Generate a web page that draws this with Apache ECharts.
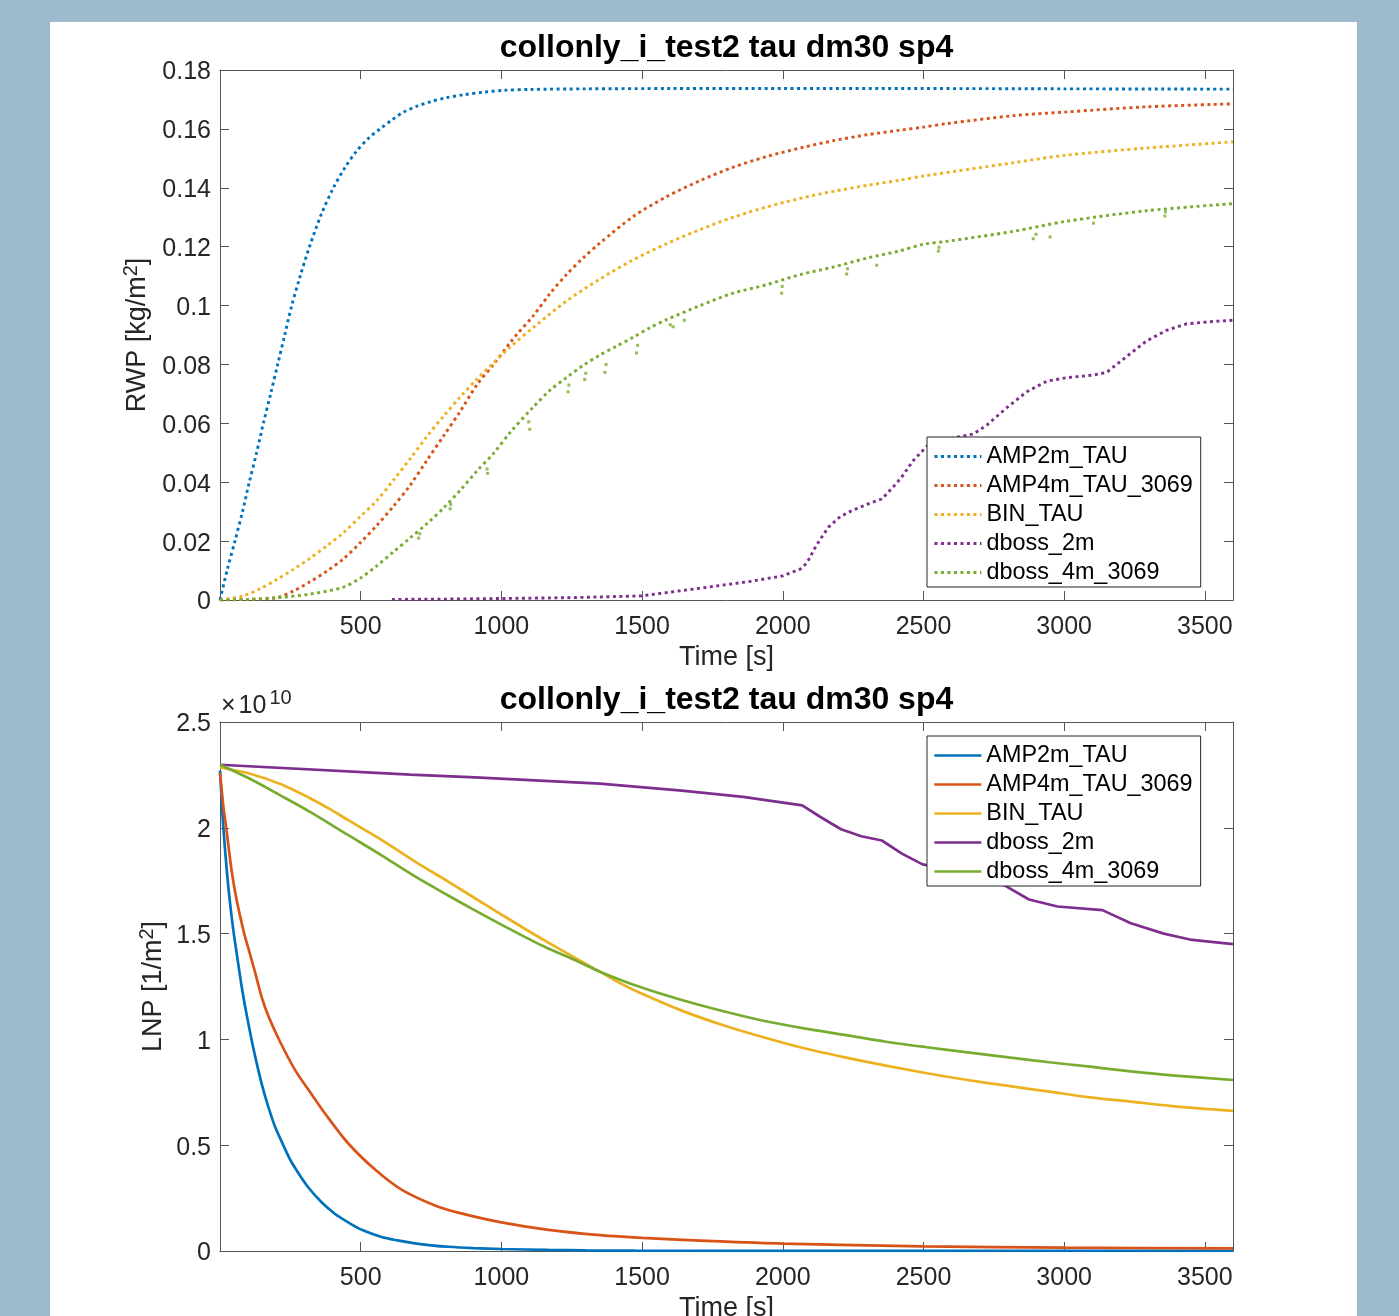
<!DOCTYPE html>
<html>
<head>
<meta charset="utf-8">
<title>collonly_i_test2 tau dm30 sp4</title>
<script src="https://cdn.jsdelivr.net/npm/echarts@6/dist/echarts.min.js"></script>
<style>
  html, body { margin: 0; padding: 0; background: #9dbbcc; overflow: hidden; }
  #sheet { position: absolute; left: 50px; top: 22px; width: 1307px; height: 1294px; background: #ffffff; }
  #chart { position: absolute; left: 0; top: 0; width: 1399px; height: 1316px; }
</style>
</head>
<body>
<div id="sheet"></div>
<div id="chart"></div>
<script>
// ---------- Rain water path, RWP [kg/m^2] (upper panel) ----------
const rwpAmp2mT = [0, 25, 53, 80, 104, 130, 154, 180, 205, 230, 255, 285, 318, 360, 403, 445, 486, 530, 569, 610, 652, 700, 747, 800, 866, 940, 1008, 1103, 1300, 1600, 2000, 2500, 3000, 3600];
const rwpAmp2mV = [0, 0.010, 0.020, 0.030, 0.040, 0.050, 0.060, 0.070, 0.080, 0.090, 0.100, 0.110, 0.120, 0.131, 0.140, 0.147, 0.1525, 0.157, 0.160, 0.163, 0.1657, 0.1677, 0.1692, 0.1705, 0.1716, 0.1725, 0.1731, 0.1734, 0.1736, 0.1737, 0.1737, 0.1737, 0.1736, 0.1735];

const rwpAmp4mT = [0, 100, 202, 260, 320, 380, 439, 498, 557, 617, 676, 735, 795, 854, 913, 972, 1032, 1053, 1113, 1172, 1231, 1291, 1350, 1468, 1587, 1706, 1824, 1943, 2062, 2180, 2299, 2412, 2500, 2583, 2820, 3000, 3293, 3600];
const rwpAmp4mV = [0, 0.0002, 0.0008, 0.003, 0.0062, 0.0098, 0.014, 0.0194, 0.0253, 0.0319, 0.039, 0.0474, 0.0558, 0.0641, 0.0731, 0.080, 0.0875, 0.090, 0.0965, 0.104, 0.1105, 0.1162, 0.1212, 0.1302, 0.137, 0.1424, 0.147, 0.1506, 0.1535, 0.156, 0.158, 0.1595, 0.1606, 0.1618, 0.1645, 0.1657, 0.1675, 0.1685];

const rwpBinT = [0, 83, 142, 202, 261, 320, 380, 439, 498, 557, 617, 676, 735, 795, 854, 913, 972, 1032, 1113, 1231, 1350, 1468, 1587, 1706, 1824, 1943, 2062, 2180, 2299, 2412, 2500, 2820, 3000, 3293, 3600];
const rwpBinV = [0, 0.0014, 0.0038, 0.007, 0.0104, 0.0142, 0.0184, 0.0229, 0.0283, 0.0337, 0.0408, 0.048, 0.0555, 0.0625, 0.069, 0.075, 0.0805, 0.086, 0.0925, 0.1015, 0.109, 0.1155, 0.121, 0.1258, 0.13, 0.1335, 0.1364, 0.1388, 0.1408, 0.1425, 0.144, 0.1485, 0.151, 0.1535, 0.1556];

const rwpDboss2mT = [611, 800, 994, 1250, 1498, 1706, 1883, 2000, 2062, 2085, 2121, 2162, 2204, 2240, 2299, 2352, 2393, 2420, 2464, 2512, 2583, 2678, 2725, 2796, 2867, 2938, 3009, 3104, 3151, 3222, 3293, 3364, 3435, 3530, 3600];
const rwpDboss2mV = [0.0002, 0.0003, 0.0005, 0.0008, 0.0014, 0.004, 0.0063, 0.0082, 0.0105, 0.0125, 0.0188, 0.0247, 0.0283, 0.0301, 0.0325, 0.0343, 0.0385, 0.0414, 0.0474, 0.0522, 0.0546, 0.0564, 0.0594, 0.0653, 0.0707, 0.0743, 0.0755, 0.0764, 0.0773, 0.0827, 0.088, 0.0916, 0.0938, 0.0946, 0.095];

// dboss_4m_3069: main trend, and the scattered low samples that sit below it
const rwpDboss4mT = [0, 100, 202, 320, 439, 498, 557, 617, 676, 735, 795, 854, 913, 972, 1032, 1113, 1172, 1231, 1291, 1350, 1409, 1468, 1528, 1587, 1706, 1824, 1943, 2062, 2180, 2299, 2412, 2500, 2583, 2820, 3000, 3293, 3600];
const rwpDboss4mV = [0, 0.0002, 0.0008, 0.002, 0.0044, 0.0074, 0.0116, 0.0164, 0.0211, 0.0259, 0.0313, 0.0373, 0.0438, 0.0498, 0.057, 0.0655, 0.0712, 0.0755, 0.0797, 0.0832, 0.0862, 0.0892, 0.0925, 0.0952, 0.1, 0.1042, 0.1071, 0.1105, 0.1131, 0.1161, 0.1185, 0.1208, 0.1218, 0.1252, 0.1285, 0.1322, 0.1346];
const rwpDboss4mLowT = [706, 710, 818, 820, 949, 951, 1097, 1101, 1237, 1240, 1296, 1300, 1368, 1372, 1480, 1484, 1600, 1610, 1650, 1996, 1998, 2227, 2230, 2334, 2553, 2555, 2890, 2900, 2950, 3104, 3358, 3360];
const rwpDboss4mLowV = [0.021, 0.0225, 0.031, 0.0325, 0.0445, 0.043, 0.0605, 0.058, 0.0707, 0.073, 0.0749, 0.077, 0.0773, 0.080, 0.0839, 0.0865, 0.0935, 0.0928, 0.095, 0.1042, 0.1065, 0.1107, 0.1125, 0.1137, 0.1185, 0.1198, 0.1227, 0.1242, 0.1233, 0.128, 0.1304, 0.1318];

// ---------- Rain drop number, LNP [1/m^2], in units of 1e10 (lower panel) ----------
const lnpAmp2mT = [0, 6, 12, 24, 36, 47, 60, 77, 90, 112, 130, 150, 172, 195, 225, 250, 280, 314, 361, 409, 456, 504, 574, 630, 693, 750, 811, 900, 1000, 1167, 1300, 1475, 1800, 2200, 2700, 3200, 3600];
const lnpAmp2mV = [2.27, 2.13, 2.0, 1.80, 1.64, 1.52, 1.40, 1.25, 1.15, 1.0, 0.89, 0.78, 0.68, 0.59, 0.5, 0.43, 0.365, 0.30, 0.23, 0.175, 0.135, 0.1, 0.066, 0.05, 0.036, 0.027, 0.02, 0.014, 0.0095, 0.005, 0.003, 0.0016, 0.0008, 0.0005, 0.0003, 0.0002, 0.0002];

const lnpAmp4mT = [0, 6, 12, 24, 41, 59, 86, 101, 124, 148, 172, 213, 267, 326, 373, 456, 551, 645, 764, 850, 1000, 1167, 1350, 1500, 1750, 2000, 2500, 3000, 3600];
const lnpAmp4mV = [2.26, 2.18, 2.10, 1.98, 1.80, 1.66, 1.5, 1.43, 1.32, 1.2, 1.11, 0.99, 0.855, 0.74, 0.65, 0.508, 0.385, 0.29, 0.215, 0.18, 0.135, 0.10, 0.075, 0.062, 0.047, 0.035, 0.022, 0.016, 0.012];

const lnpBinT = [0, 101, 219, 320, 391, 456, 574, 693, 811, 906, 1000, 1150, 1269, 1350, 1423, 1496, 1641, 1786, 1931, 2076, 2221, 2367, 2512, 2657, 2802, 2947, 3092, 3237, 3383, 3600];
const lnpBinV = [2.285, 2.258, 2.205, 2.14, 2.088, 2.036, 1.943, 1.84, 1.746, 1.667, 1.59, 1.47, 1.38, 1.32, 1.265, 1.218, 1.136, 1.068, 1.01, 0.958, 0.915, 0.876, 0.84, 0.808, 0.78, 0.753, 0.726, 0.706, 0.685, 0.662];

const lnpDboss2mT = [0, 676, 906, 1350, 1641, 1859, 2069, 2134, 2207, 2279, 2352, 2425, 2497, 2600, 2700, 2788, 2875, 2976, 3136, 3237, 3354, 3455, 3600];
const lnpDboss2mV = [2.298, 2.251, 2.238, 2.209, 2.176, 2.146, 2.106, 2.051, 1.993, 1.96, 1.94, 1.877, 1.827, 1.80, 1.775, 1.728, 1.661, 1.628, 1.611, 1.549, 1.50, 1.47, 1.45];

const lnpDboss4mT = [0, 101, 219, 320, 456, 574, 693, 811, 906, 1032, 1150, 1269, 1350, 1496, 1641, 1786, 1931, 2076, 2221, 2367, 2512, 2657, 2802, 2947, 3092, 3237, 3383, 3600];
const lnpDboss4mV = [2.298, 2.235, 2.15, 2.075, 1.965, 1.87, 1.77, 1.68, 1.61, 1.52, 1.44, 1.37, 1.32, 1.246, 1.186, 1.134, 1.088, 1.052, 1.021, 0.989, 0.963, 0.939, 0.915, 0.892, 0.871, 0.849, 0.83, 0.808];

// ---------- labels ----------
const seriesNames = ['AMP2m_TAU', 'AMP4m_TAU_3069', 'BIN_TAU', 'dboss_2m', 'dboss_4m_3069'];
const seriesColors = ['#0072BD', '#D95319', '#EDB120', '#7E2F8E', '#77AC30'];
const plotTitle = 'collonly_i_test2 tau dm30 sp4';
const timeTicks = [500, 1000, 1500, 2000, 2500, 3000, 3500];

// ---------- styling ----------
const FONT = '"Liberation Sans", Arial, Helvetica, sans-serif';
const TXT = '#262626';
const AXC = '#555555';
const DOT = [3, 3.5];
const DOT_W = 2.9;
const SOLID_W = 2.7;

function pairs(t, v) { return t.map((x, i) => [x, v[i]]); }

const rwpData = [
  pairs(rwpAmp2mT, rwpAmp2mV),
  pairs(rwpAmp4mT, rwpAmp4mV),
  pairs(rwpBinT, rwpBinV),
  pairs(rwpDboss2mT, rwpDboss2mV),
  pairs(rwpDboss4mT, rwpDboss4mV)
];
const lnpData = [
  pairs(lnpAmp2mT, lnpAmp2mV),
  pairs(lnpAmp4mT, lnpAmp4mV),
  pairs(lnpBinT, lnpBinV),
  pairs(lnpDboss2mT, lnpDboss2mV),
  pairs(lnpDboss4mT, lnpDboss4mV)
];

function timeAxis(grid, position, withLabels) {
  const ax = {
    type: 'value', gridIndex: grid, position: position,
    min: 0, max: 3600, interval: 500,
    axisLine: { show: true, onZero: false, lineStyle: { color: AXC, width: 1 } },
    axisTick: { show: true, inside: true, length: 9, lineStyle: { color: AXC, width: 1 } },
    axisLabel: {
      show: withLabels, fontSize: 25, color: TXT, fontFamily: FONT, margin: 15,
      formatter: v => (timeTicks.indexOf(v) >= 0 ? String(v) : '')
    },
    splitLine: { show: false }
  };
  if (withLabels) {
    ax.name = 'Time [s]';
    ax.nameLocation = 'middle';
    ax.nameGap = 44;
    ax.nameMoveOverlap = false;
    ax.nameTextStyle = { fontSize: 27, lineHeight: 28, color: TXT, fontFamily: FONT };
  }
  return ax;
}

function valueAxis(grid, position, max, interval, withLabels, name, gap) {
  const ax = {
    type: 'value', gridIndex: grid, position: position,
    min: 0, max: max, interval: interval,
    axisLine: { show: true, onZero: false, lineStyle: { color: AXC, width: 1 } },
    axisTick: { show: true, inside: true, length: 9, lineStyle: { color: AXC, width: 1 } },
    axisLabel: {
      show: withLabels, fontSize: 25, color: TXT, fontFamily: FONT, margin: 9,
      verticalAlign: 'top', lineHeight: 5
    },
    splitLine: { show: false }
  };
  if (withLabels) {
    ax.name = name;
    ax.nameLocation = 'middle';
    ax.nameRotate = 90;
    ax.nameGap = gap;
    ax.nameMoveOverlap = false;
    ax.nameTextStyle = {
      fontSize: 27, lineHeight: 34, color: TXT, fontFamily: FONT,
      rich: { s: { fontSize: 20, lineHeight: 20, verticalAlign: 'top', color: TXT, fontFamily: FONT } }
    };
  }
  return ax;
}

function makeSeries(data, grid, dotted) {
  return data.map((d, i) => ({
    type: 'line',
    name: seriesNames[i],
    xAxisIndex: grid * 2,
    yAxisIndex: grid * 2,
    data: d,
    symbol: 'none',
    smooth: i === 3 ? false : 0.3,
    clip: true,
    color: seriesColors[i],
    lineStyle: dotted
      ? { color: seriesColors[i], width: DOT_W, type: DOT, cap: 'butt' }
      : { color: seriesColors[i], width: SOLID_W, type: 'solid' },
    emphasis: { disabled: true },
    z: 2
  }));
}

function makeLegend(top, dotted) {
  return {
    orient: 'vertical', left: 927, top: top,
    padding: [5, 8, 0, 6], itemGap: 0, itemWidth: 47, itemHeight: 14,
    backgroundColor: '#ffffff', borderColor: '#262626', borderWidth: 1, borderRadius: 0,
    selectedMode: false, z: 10,
    textStyle: { fontSize: 23.4, lineHeight: 29, color: '#000000', fontFamily: FONT },
    data: seriesNames.map((n, i) => ({
      name: n,
      itemStyle: { color: seriesColors[i], opacity: 0 },
      lineStyle: dotted
        ? { color: seriesColors[i], width: DOT_W, type: DOT, cap: 'butt', opacity: 1 }
        : { color: seriesColors[i], width: SOLID_W, type: 'solid', opacity: 1 }
    }))
  };
}

const chart = echarts.init(document.getElementById('chart'), null, { renderer: 'canvas', width: 1399, height: 1316 });

chart.setOption({
  animation: false,
  backgroundColor: 'transparent',
  grid: [
    { left: 220, top: 70, width: 1013, height: 530, outerBoundsMode: 'none' },
    { left: 220, top: 722, width: 1013, height: 529, outerBoundsMode: 'none' }
  ],
  xAxis: [
    timeAxis(0, 'bottom', true),
    timeAxis(0, 'top', false),
    timeAxis(1, 'bottom', true),
    timeAxis(1, 'top', false)
  ],
  yAxis: [
    valueAxis(0, 'left', 0.18, 0.02, true, 'RWP [kg/m{s|2}]', 65),
    valueAxis(0, 'right', 0.18, 0.02, false),
    valueAxis(1, 'left', 2.5, 0.5, true, 'LNP [1/m{s|2}]', 49),
    valueAxis(1, 'right', 2.5, 0.5, false)
  ],
  legend: [makeLegend(437, true), makeLegend(736, false)],
  graphic: [
    { type: 'text', x: 726.5, y: 48, silent: true,
      style: { text: plotTitle, fill: '#000000', font: 'bold 32px ' + FONT, align: 'center', verticalAlign: 'middle' } },
    { type: 'text', x: 726.5, y: 700, silent: true,
      style: { text: plotTitle, fill: '#000000', font: 'bold 32px ' + FONT, align: 'center', verticalAlign: 'middle' } },
    { type: 'text', x: 221, y: 706, silent: true,
      style: {
        text: '{x|×}10{e|10}', fill: TXT, fontSize: 25, fontFamily: FONT, lineHeight: 36,
        align: 'left', verticalAlign: 'middle',
        rich: {
          x: { fontSize: 25, lineHeight: 36, padding: [0, 3, 0, 0], fill: TXT, fontFamily: FONT },
          e: { fontSize: 20, lineHeight: 20, verticalAlign: 'top', padding: [0, 0, 0, 3], fill: TXT, fontFamily: FONT }
        }
      } }
  ],
  series: makeSeries(rwpData, 0, true).concat(
    [{
      type: 'scatter',
      name: 'dboss_4m_3069',
      xAxisIndex: 0,
      yAxisIndex: 0,
      data: pairs(rwpDboss4mLowT, rwpDboss4mLowV),
      symbol: 'rect',
      symbolSize: 3,
      itemStyle: { color: seriesColors[4] },
      emphasis: { disabled: true },
      z: 2
    }],
    makeSeries(lnpData, 1, false)
  )
});
</script>
</body>
</html>
